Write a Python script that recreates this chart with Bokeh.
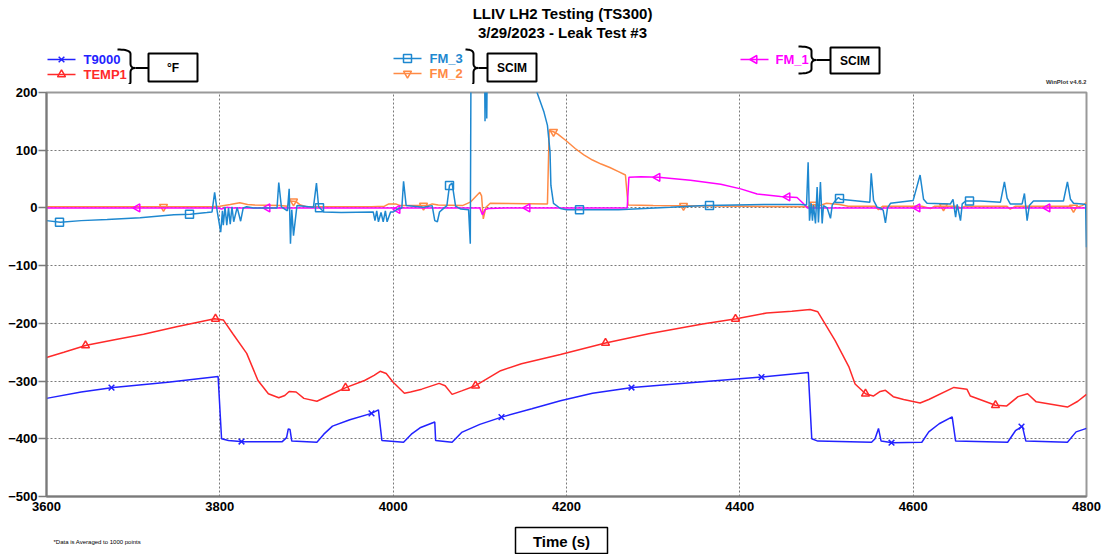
import numpy as np
from bokeh.plotting import figure
from bokeh.layouts import column
from bokeh.models import Range1d, FixedTicker
from bokeh.core.properties import value
from bokeh.embed import file_html
from bokeh.resources import INLINE

FONT = "Liberation Sans"

# ---- channel data: (time in s, reading) ----
T9000 = [(3600, -330), (3640, -319), (3677, -311), (3740, -302), (3798, -292), (3802, -400),
         (3810, -403), (3827, -405), (3872, -405), (3877, -398), (3879, -383), (3881, -384),
         (3883, -404), (3912, -406), (3920, -392), (3930, -378), (3950, -367), (3975, -356),
         (3983, -350), (3987, -403), (4012, -406), (4021, -392), (4031, -381), (4048, -371),
         (4049, -403), (4068, -406), (4079, -389), (4100, -375), (4126, -362), (4160, -348),
         (4193, -334), (4230, -321), (4276, -311), (4350, -302), (4425, -293), (4479, -285),
         (4483, -400), (4490, -404), (4552, -406), (4556, -400), (4560, -382), (4563, -404),
         (4576, -407), (4610, -406), (4618, -388), (4630, -374), (4645, -362), (4649, -404),
         (4709, -406), (4718, -386), (4726, -378), (4730, -404), (4778, -406), (4788, -388),
         (4800, -382)]

TEMP1 = [(3600, -259), (3620, -250), (3646, -238), (3680, -228), (3712, -219), (3750, -206),
         (3794, -192), (3804, -194), (3815, -218), (3831, -252), (3844, -299), (3856, -322),
         (3868, -329), (3875, -325), (3880, -318), (3888, -319), (3897, -330), (3912, -335),
         (3926, -325), (3946, -311), (3967, -299), (3978, -290), (3985, -283), (3992, -287),
         (4000, -302), (4013, -321), (4020, -319), (4033, -314), (4053, -304), (4060, -308),
         (4068, -323), (4079, -317), (4095, -308), (4124, -282), (4148, -270), (4193, -254),
         (4245, -234), (4295, -218), (4357, -201), (4396, -192), (4431, -182), (4460, -179),
         (4481, -176), (4490, -180), (4510, -230), (4526, -276), (4533, -305), (4545, -322),
         (4554, -326), (4562, -318), (4568, -316), (4577, -327), (4589, -332), (4608, -338),
         (4618, -332), (4647, -311), (4662, -314), (4666, -326), (4695, -342), (4708, -343),
         (4721, -327), (4732, -322), (4742, -336), (4778, -345), (4790, -335), (4800, -323)]

FM_3 = [(3600, -22), (3616, -25), (3640, -22), (3670, -20), (3708, -17), (3747, -12), (3766, -11),
        (3785, -8), (3791, -7), (3794, 27), (3797, -6), (3801, -42), (3803, -5), (3804, -30),
        (3806, 2), (3808, -30), (3810, 0), (3812, -28), (3814, 2), (3816, -24), (3820, 1),
        (3824, -23), (3827, 0), (3831, 2), (3839, 0), (3866, 0), (3868, 44), (3871, 2),
        (3878, -5), (3880, 33), (3881.5, -62), (3883, -3), (3885, -48), (3889, 4), (3908, 1),
        (3911.5, 43), (3914, 2), (3920, -7), (3940, -8), (3977, -7), (3979, -22), (3981, -5),
        (3983, -24), (3986, -8), (3988.5, -24), (3991, -5), (3993, -24), (3997, -7), (4000, -7),
        (4006, -1), (4010, 0), (4012, 46), (4015, 4), (4035, 1), (4045, 4), (4048, -22),
        (4051, -24), (4053.5, -7), (4056.5, -3), (4062, 4), (4065, 39), (4068, 43), (4072, 3),
        (4078, -2), (4087, -3), (4089, -62), (4090, 330), (4105, 330), (4106, 150), (4107, 330),
        (4108, 155), (4109, 330), (4160, 330), (4166, 200), (4174, 166), (4178, 143), (4181, 97),
        (4182, 39), (4185, 8), (4193, -1), (4200, -3), (4260, -3), (4290, -1), (4320, 1),
        (4360, 4), (4395, 5), (4430, 6), (4470, 6), (4477, 5), (4478.8, 79), (4480.4, -22),
        (4482.3, 8), (4483.8, -22), (4485, 5), (4487.3, -27), (4489.2, 36), (4490.7, -25),
        (4493, 45), (4495, -27), (4496.5, 4), (4500.8, 0), (4504.6, -18), (4506.6, 5),
        (4510.4, 13), (4513.8, 18), (4516, 15), (4550, 10), (4551.6, 60), (4554.3, 13),
        (4558.5, 1), (4562.3, 0), (4565.4, -4), (4568, -26), (4570.4, 0), (4573.8, 8),
        (4600, 13), (4608, 57), (4612, 15), (4616, 8), (4643, 7), (4646, 15), (4649, -16),
        (4650.8, 6), (4654.6, -22), (4656.6, 7), (4660.5, 12), (4677.6, 12), (4700.7, 10),
        (4705.3, 45), (4708.4, 17), (4712, 7), (4725.7, 7), (4728.4, 25), (4731.5, -22),
        (4734, 4), (4738.8, 12), (4773.4, 12), (4778, 45), (4781.5, 15), (4785, 8), (4795, 7),
        (4799, 6), (4800, -68)]

FM_2 = [(3600, 2), (3790, 2), (3800, 3), (3812, 6), (3823, 9), (3832, 6), (3840, 5), (3870, 4),
        (3878, 3), (3881, 12), (3888, 11), (3893, 5), (3900, 2), (3975, 2), (3990, 3), (3995, 7),
        (4003, 7), (4008, 4), (4040, 4), (4045, 7), (4052, 5), (4080, 4), (4089, 10), (4100, 27),
        (4102, 21), (4104, -19), (4107, 1), (4112, 8), (4178, 7), (4180, 134), (4185, 132),
        (4190, 128), (4200, 116), (4210, 103), (4220, 92), (4230, 83), (4240, 76), (4250, 70),
        (4260, 63), (4268, 57), (4271, 5), (4300, 4), (4400, 3), (4478, 2), (4485, 6), (4492, 4),
        (4500, 8), (4515, 6), (4525, 3), (4556, 3), (4560, -3), (4565, 3), (4610, 3), (4620, -1),
        (4625, 3), (4650, 3), (4655, 0), (4660, 3), (4708, 3), (4712, -2), (4718, 3), (4780, 3),
        (4786, 0), (4795, 4), (4800, 9)]

FM_1 = [(3600, 0), (3798, 0), (3802, -2), (3808, 1), (3815, 0), (4003, 0), (4006, -4), (4010, 0),
        (4100, 0), (4103, -12), (4106, -3), (4110, -1), (4130, 0), (4270, 0), (4272, 53),
        (4286, 54), (4306, 53), (4343, 48), (4378, 41), (4401, 33), (4420, 24), (4447, 20),
        (4466, 18), (4473, 8), (4478, 0), (4560, 0), (4563, -3), (4566, 0), (4800, 0)]

x_ticks = [3600, 3800, 4000, 4200, 4400, 4600, 4800]
y_ticks = [-500, -400, -300, -200, -100, 0, 100, 200]

# channel style: data, colour, marker, first marker time
CHANNELS = {
    "T9000": (T9000, "#2222ff", "x", 3675),
    "TEMP1": (TEMP1, "#ff2a2a", "triangle", 3645),
    "FM_2": (FM_2, "#ff8a45", "inverted_triangle", 3735),
    "FM_1": (FM_1, "#ff00ff", "triangle", 3705),
    "FM_3": (FM_3, "#1e88d0", "square", 3615),
}
MARK_STEP = 150
N_MARKS = 8

# page geometry shared by the three stacked panels
W = 1104
LEFT, RIGHT = 46, 18

# ---------------- main chart ----------------
p = figure(width=W, height=436, x_range=Range1d(3600, 4800), y_range=Range1d(-500, 200),
           output_backend="svg", toolbar_location=None,
           min_border_left=LEFT, min_border_right=RIGHT, min_border_top=8, min_border_bottom=24,
           background_fill_color="white", border_fill_color="white")

p.xaxis.ticker = FixedTicker(ticks=x_ticks)
p.yaxis.ticker = FixedTicker(ticks=y_ticks)
for ax in (p.xaxis, p.yaxis):
    ax.major_label_text_font = FONT
    ax.major_label_text_font_size = "13px"
    ax.major_label_text_font_style = "bold"
    ax.major_label_text_color = "black"
    ax.minor_tick_line_color = None
    ax.axis_line_color = "#7a7a7a"
    ax.axis_line_width = 2
    ax.major_tick_line_color = "#7a7a7a"
    ax.major_tick_line_width = 1.5
p.xaxis.major_tick_out = 0
p.xaxis.major_tick_in = 0
p.xaxis.major_label_standoff = 5
p.yaxis.major_tick_out = 8
p.yaxis.major_tick_in = 0
p.yaxis.major_label_standoff = 1

p.outline_line_color = "#999999"
p.outline_line_width = 2
p.grid.grid_line_color = "#7a7a7a"
p.grid.grid_line_dash = "2 2"
p.grid.grid_line_width = 1

for name in ["T9000", "TEMP1", "FM_2", "FM_1", "FM_3"]:
    data, color, marker, first = CHANNELS[name]
    t = np.array([d[0] for d in data], dtype=float)
    v = np.array([d[1] for d in data], dtype=float)
    p.line(t, v, line_color=color, line_width=1.5)
    mt = first + MARK_STEP * np.arange(N_MARKS)
    mv = np.interp(mt, t, v)
    angle = np.pi / 2 if name == "FM_1" else 0.0
    p.scatter(mt, mv, marker=marker, size=8, line_color=color, line_width=1.5,
              fill_color=None, angle=angle)


def panel(height):
    # a strip whose data coordinates equal page pixels (x) and strip pixels from the top (y)
    fig = figure(width=W, height=height, x_range=Range1d(LEFT, W - RIGHT),
                 y_range=Range1d(height, 0), output_backend="svg", toolbar_location=None,
                 min_border_left=LEFT, min_border_right=RIGHT, min_border_top=0,
                 min_border_bottom=0, x_axis_type=None, y_axis_type=None,
                 outline_line_color=None, background_fill_color="white",
                 border_fill_color="white")
    return fig


# ---------------- heading with titles and grouped legends ----------------
h = panel(84)

h.text(x=[562, 562], y=[13, 31.5],
       text=["LLIV LH2 Testing (TS300)", "3/29/2023 - Leak Test #3"],
       text_font=value(FONT), text_font_size="15px", text_font_style="bold",
       text_align="center", text_baseline="middle", text_color="black")

h.text(x=[1086], y=[81], text=["WinPlot v4.6.2"], text_font=value(FONT),
       text_font_size="6px", text_font_style="bold", text_color="#333333",
       text_align="right", text_baseline="middle")


def legend_entry(x_line, x_text, y, name):
    data, color, marker, _ = CHANNELS[name]
    h.line([x_line, x_line + 28], [y, y], line_color=color, line_width=1.5)
    angle = np.pi / 2 if name == "FM_1" else 0.0
    h.scatter([x_line + 14], [y], marker=marker, size=8, line_color=color,
              line_width=1.5, fill_color=None, angle=angle)
    h.text(x=[x_text], y=[y], text=[name], text_font=value(FONT), text_font_size="13px",
           text_font_style="bold", text_color=color, text_align="left",
           text_baseline="middle")


def brace(x_arm, x_stem, x_tip, y_top, y_bot, x_box):
    ym = (y_top + y_bot) / 2.0
    r = 4.5
    s = np.linspace(0, 1, 12)

    def quad(p0, c, p1):
        return ((1 - s) ** 2 * p0[0] + 2 * (1 - s) * s * c[0] + s ** 2 * p1[0],
                (1 - s) ** 2 * p0[1] + 2 * (1 - s) * s * c[1] + s ** 2 * p1[1])

    xs, ys = [], []
    for (p0, c, p1) in [((x_arm, y_top), (x_stem, y_top), (x_stem, y_top + r)),
                        ((x_stem, ym - r), (x_stem, ym), (x_tip, ym)),
                        ((x_tip, ym), (x_stem, ym), (x_stem, ym + r)),
                        ((x_stem, y_bot - r), (x_stem, y_bot), (x_arm, y_bot))]:
        qx, qy = quad(p0, c, p1)
        xs.extend(qx)
        ys.extend(qy)
    h.line(xs, ys, line_color="black", line_width=2)
    h.line([x_tip, x_box], [ym, ym], line_color="black", line_width=2)


def unit_box(left, right, top, bottom, label):
    h.quad(left=[left], right=[right], top=[top], bottom=[bottom], fill_color=None,
           line_color="black", line_width=2)
    h.text(x=[(left + right) / 2], y=[(top + bottom) / 2 + 0.5], text=[label],
           text_font=value(FONT), text_font_size="12px", text_font_style="bold",
           text_color="black", text_align="center", text_baseline="middle")


legend_entry(47, 83, 59, "T9000")
legend_entry(47, 83, 74, "TEMP1")
brace(117, 130, 135, 49, 86, 148)
unit_box(148, 197, 53, 81, "°F")

legend_entry(393, 429, 58, "FM_3")
legend_entry(393, 429, 73, "FM_2")
brace(465, 473, 478, 49, 86, 487)
unit_box(487, 536, 53, 81, "SCIM")

legend_entry(740, 775, 59, "FM_1")
brace(798, 811, 816, 46, 73, 830)
unit_box(830, 879, 47, 73, "SCIM")

# ---------------- footer with axis title and note ----------------
f = panel(34)
f.quad(left=[515], right=[607], top=[7], bottom=[33], fill_color=None,
       line_color="black", line_width=1.5)
f.text(x=[561], y=[20.5], text=["Time (s)"], text_font=value(FONT), text_font_size="15px",
       text_font_style="bold", text_color="black", text_align="center",
       text_baseline="middle")
f.text(x=[53], y=[21], text=["*Data is Averaged to 1000 points"], text_font=value(FONT),
       text_font_size="6px", text_color="black", text_align="left", text_baseline="middle")

layout = column(h, p, f, spacing=0)
open("out.html", "w").write(file_html(layout, INLINE))
